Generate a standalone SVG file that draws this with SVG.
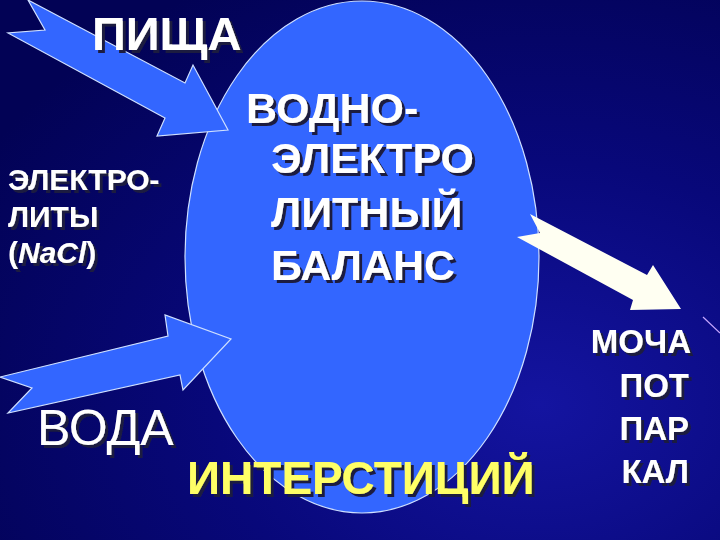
<svg xmlns="http://www.w3.org/2000/svg" width="720" height="540" viewBox="0 0 720 540">
<defs>
<radialGradient id="bg" cx="0.75" cy="0.75" r="0.9">
<stop offset="0" stop-color="#1414a0"/>
<stop offset="0.5" stop-color="#08087a"/>
<stop offset="1" stop-color="#020255"/>
</radialGradient>
<filter id="shadow" x="-10%" y="-20%" width="130%" height="150%">
<feDropShadow dx="3" dy="3" stdDeviation="0.4" flood-color="#1c1c40" flood-opacity="1"/>
</filter>
<style>
.t{font-family:"Liberation Sans",Arial,sans-serif;font-weight:bold;filter:url(#shadow);}
.w{fill:#ffffff;}
.y{fill:#ffff66;}
.blue{fill:#3366ff;stroke:#cfe0ff;stroke-width:1.2;stroke-linejoin:miter;}
</style>
</defs>
<rect width="720" height="540" fill="url(#bg)"/>
<line x1="703" y1="317" x2="720" y2="333" stroke="#c8a8ff" stroke-width="1.2"/>

<g id="balance">
<ellipse cx="362" cy="257" rx="177" ry="256" class="blue"/>
</g>

<g id="connectors">
<polygon id="arrow-food" class="blue" points="28,0 185,83 193,65 228,130 157,136 165,118 8,33 45,30"/>
<polygon id="arrow-water" class="blue" points="0,377 168,336 165,315 231,339 183,390 180,375 8,413 32,388"/>
<polygon id="arrow-out" fill="#fffff2" points="530,214 647,275 653,265 681,309 630,310 633,300 517,237 540,233"/>
</g>

<g id="food">
<text x="92" y="50" class="t w" font-size="47">ПИЩА</text>
</g>

<g id="balance-label" class="t w" font-size="43">
<text x="246" y="123">ВОДНО-</text>
<text x="271" y="173">ЭЛЕКТРО</text>
<text x="271" y="227">ЛИТНЫЙ</text>
<text x="271" y="280">БАЛАНС</text>
</g>

<g id="electrolytes" class="t w" font-size="30">
<text x="8" y="190">ЭЛЕКТРО-</text>
<text x="8" y="227">ЛИТЫ</text>
<text x="8" y="263">(<tspan font-style="italic">NaCl</tspan>)</text>
</g>

<g id="water">
<text x="37" y="445" class="t w" font-weight="normal" style="font-weight:normal" font-size="50">ВОДА</text>
</g>

<g id="interstitium">
<text x="187" y="494" class="t y" font-size="46">ИНТЕРСТИЦИЙ</text>
</g>

<g id="outputs" class="t w" font-size="33" text-anchor="end">
<text x="691" y="353">МОЧА</text>
<text x="689" y="397">ПОТ</text>
<text x="689" y="440">ПАР</text>
<text x="689" y="483">КАЛ</text>
</g>
</svg>
